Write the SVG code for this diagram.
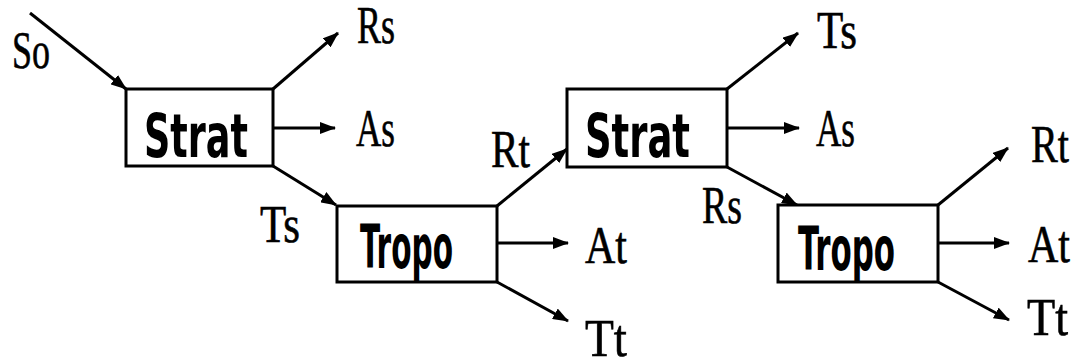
<svg xmlns="http://www.w3.org/2000/svg" width="1073" height="361" viewBox="0 0 1073 361">
  <style>
    .box { fill: #ffffff; stroke: #000000; stroke-width: 3; }
    .name { font-family: "DejaVu Sans", "Liberation Sans", sans-serif; font-stretch: condensed; font-weight: bold; font-size: 61px; fill: #000000; }
    .lbl { font-family: "Liberation Serif", "DejaVu Serif", serif; font-size: 53px; fill: #000000; stroke: #000000; stroke-width: 0.6; }
    .edge { stroke: #000000; stroke-width: 3; fill: none; marker-end: url(#arrow); }
  </style>
  <defs>
    <marker id="arrow" markerUnits="userSpaceOnUse" markerWidth="16" markerHeight="12" refX="15" refY="6" orient="auto">
      <path d="M0,0 L16,6 L0,12 z" fill="#000000"/>
    </marker>
  </defs>
  <rect width="1073" height="361" fill="#ffffff"/>

  <!-- connectors -->
  <g id="connectors">
    <line class="edge" x1="30" y1="13" x2="126" y2="89"/>
    <line class="edge" x1="273" y1="89" x2="338" y2="33"/>
    <line class="edge" x1="273" y1="128" x2="335" y2="128"/>
    <line class="edge" x1="273" y1="166" x2="336" y2="205"/>
    <line class="edge" x1="497" y1="206" x2="567" y2="149"/>
    <line class="edge" x1="497" y1="243" x2="568" y2="243"/>
    <line class="edge" x1="497" y1="282" x2="568" y2="321"/>
    <line class="edge" x1="727" y1="89" x2="798" y2="33"/>
    <line class="edge" x1="727" y1="128" x2="799" y2="128"/>
    <line class="edge" x1="727" y1="167" x2="797" y2="205"/>
    <line class="edge" x1="938" y1="205" x2="1008" y2="148"/>
    <line class="edge" x1="938" y1="243" x2="1009" y2="243"/>
    <line class="edge" x1="938" y1="282" x2="1009" y2="320"/>
  </g>

  <!-- flow labels -->
  <g id="labels">
    <text class="lbl" x="12" y="68" textLength="38" lengthAdjust="spacingAndGlyphs">So</text>
    <text class="lbl" x="357" y="43" font-size="46" textLength="38" lengthAdjust="spacingAndGlyphs">Rs</text>
    <text class="lbl" x="356" y="146" textLength="39" lengthAdjust="spacingAndGlyphs">As</text>
    <text class="lbl" x="260" y="242" textLength="40" lengthAdjust="spacingAndGlyphs">Ts</text>
    <text class="lbl" x="491" y="167" textLength="39" lengthAdjust="spacingAndGlyphs">Rt</text>
    <text class="lbl" x="585" y="263" textLength="42" lengthAdjust="spacingAndGlyphs">At</text>
    <text class="lbl" x="585" y="356" font-size="51" textLength="42" lengthAdjust="spacingAndGlyphs">Tt</text>
    <text class="lbl" x="817" y="48" textLength="40" lengthAdjust="spacingAndGlyphs">Ts</text>
    <text class="lbl" x="816" y="146" textLength="39" lengthAdjust="spacingAndGlyphs">As</text>
    <text class="lbl" x="702" y="223" textLength="40" lengthAdjust="spacingAndGlyphs">Rs</text>
    <text class="lbl" x="1031" y="162" font-size="46" textLength="38" lengthAdjust="spacingAndGlyphs">Rt</text>
    <text class="lbl" x="1028" y="262" textLength="42" lengthAdjust="spacingAndGlyphs">At</text>
    <text class="lbl" x="1027" y="335" font-size="50" textLength="41" lengthAdjust="spacingAndGlyphs">Tt</text>
  </g>

  <!-- nodes -->
  <g id="strat1">
    <rect class="box" x="126" y="89" width="147" height="77"/>
    <text class="name" x="144" y="157" textLength="104" lengthAdjust="spacingAndGlyphs">Strat</text>
  </g>
  <g id="tropo1">
    <rect class="box" x="337" y="206" width="160" height="76"/>
    <text class="name" x="360" y="268" textLength="93" lengthAdjust="spacingAndGlyphs">Tropo</text>
  </g>
  <g id="strat2">
    <rect class="box" x="567" y="89" width="160" height="78"/>
    <text class="name" x="585" y="157" textLength="105" lengthAdjust="spacingAndGlyphs">Strat</text>
  </g>
  <g id="tropo2">
    <rect class="box" x="778" y="205" width="160" height="77"/>
    <text class="name" x="798" y="270" textLength="97" lengthAdjust="spacingAndGlyphs">Tropo</text>
  </g>
</svg>
